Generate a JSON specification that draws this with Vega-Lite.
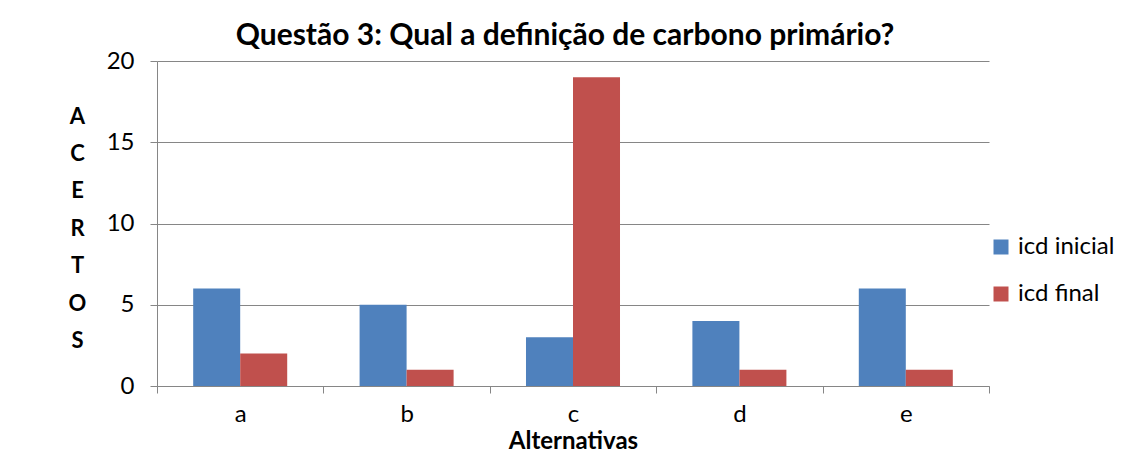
{
  "$schema": "https://vega.github.io/schema/vega-lite/v6.json",
  "width": 832,
  "height": 325,
  "autosize": {"type": "none"},
  "padding": {"left": 157, "top": 61, "right": 140, "bottom": 71},
  "background": "white",
  "title": {
    "text": "Questão 3: Qual a definição de carbono primário?",
    "font": "Lato",
    "fontSize": 30,
    "fontWeight": "bold",
    "color": "black",
    "anchor": "middle",
    "dx": -8,
    "offset": -2
  },
  "data": {
    "values": [
      {"alt": "a", "serie": "icd inicial", "valor": 6},
      {"alt": "a", "serie": "icd final", "valor": 2},
      {"alt": "b", "serie": "icd inicial", "valor": 5},
      {"alt": "b", "serie": "icd final", "valor": 1},
      {"alt": "c", "serie": "icd inicial", "valor": 3},
      {"alt": "c", "serie": "icd final", "valor": 19},
      {"alt": "d", "serie": "icd inicial", "valor": 4},
      {"alt": "d", "serie": "icd final", "valor": 1},
      {"alt": "e", "serie": "icd inicial", "valor": 6},
      {"alt": "e", "serie": "icd final", "valor": 1}
    ]
  },
  "mark": {"type": "bar"},
  "encoding": {
    "x": {
      "field": "alt",
      "type": "nominal",
      "scale": {"paddingInner": 0, "paddingOuter": 0},
      "axis": {
        "title": "Alternativas",
        "titleFont": "Lato",
        "titleFontSize": 24,
        "titleFontWeight": "bold",
        "titleColor": "black",
        "titlePadding": 3,
        "labelAngle": 0,
        "labelFont": "Lato",
        "labelFontSize": 24,
        "labelColor": "black",
        "labelPadding": 9,
        "tickBand": "extent",
        "tickSize": 7,
        "tickColor": "#868686",
        "domainColor": "#868686",
        "grid": false
      }
    },
    "xOffset": {
      "field": "serie",
      "type": "nominal",
      "sort": ["icd inicial", "icd final"],
      "scale": {"paddingInner": 0, "paddingOuter": 0.77}
    },
    "y": {
      "field": "valor",
      "type": "quantitative",
      "scale": {"domain": [0, 20], "nice": false},
      "axis": {
        "values": [0, 5, 10, 15, 20],
        "title": ["A", "C", "E", "R", "T", "O", "S"],
        "titleAngle": 0,
        "titleFont": "Lato",
        "titleFontSize": 22,
        "titleFontWeight": "bold",
        "titleColor": "black",
        "titleLineHeight": 37.4,
        "titleAlign": "center",
        "titleBaseline": "middle",
        "titleX": -80,
        "titleY": 55,
        "labelFont": "Lato",
        "labelFontSize": 24,
        "labelColor": "black",
        "labelPadding": 16,
        "tickSize": 7,
        "tickColor": "#868686",
        "domainColor": "#868686",
        "grid": true,
        "gridColor": "#868686",
        "gridWidth": 1
      }
    },
    "color": {
      "field": "serie",
      "type": "nominal",
      "scale": {"domain": ["icd inicial", "icd final"], "range": ["#4F81BD", "#C0504D"]},
      "legend": {
        "title": null,
        "orient": "none",
        "legendX": 832,
        "legendY": 174,
        "padding": 0,
        "symbolType": "square",
        "symbolSize": 225,
        "symbolStrokeWidth": 0,
        "symbolOpacity": 1,
        "labelFont": "Lato",
        "labelFontSize": 24,
        "labelColor": "black",
        "labelOffset": 5,
        "rowPadding": 23
      }
    }
  },
  "config": {
    "view": {"stroke": null},
    "axis": {"domainWidth": 1, "tickWidth": 1}
  }
}
